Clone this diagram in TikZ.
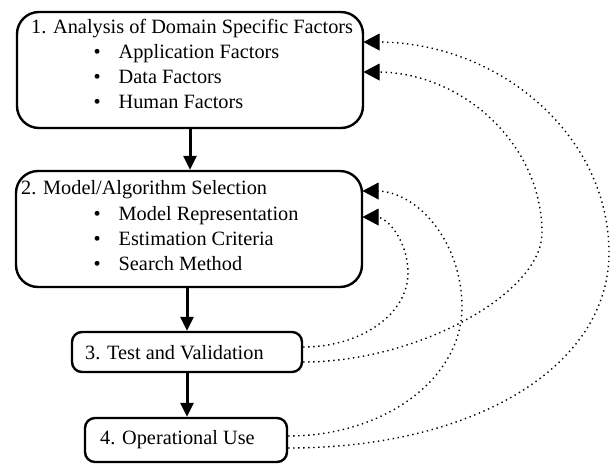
\documentclass[tikz,border=0pt]{standalone}
\usepackage{fontspec}
\setmainfont{Liberation Serif}
\usetikzlibrary{arrows.meta}
\begin{document}
\begin{tikzpicture}[x=1pt,y=-1pt,
  box/.style={draw, line width=2.4pt, rounded corners=#1, inner sep=0pt},
  box/.default=20pt,
  txt/.style={anchor=base west, inner sep=0pt, font=\fontsize{20.3}{24}\selectfont},
  flow/.style={line width=3pt, -{Triangle[length=14pt,width=13pt]}},
  fb/.style={line width=1.4pt, dash pattern=on 1.4pt off 3.6pt, shorten >=13pt},
  fbtip/.style={fill=black, draw=black, line width=0.6pt, line join=miter}]
  % canvas
  \path[fill=white,use as bounding box] (0,0) rectangle (611,464);

  % process boxes
  \node[box=22pt, minimum width=346pt, minimum height=116pt] (b1) at (190,70) {};
  \node[box=22pt, minimum width=346pt, minimum height=116pt] (b2) at (189,229) {};
  \node[box=10pt, minimum width=230pt, minimum height=40pt] (b3) at (187,352) {};
  \node[box=10pt, minimum width=202pt, minimum height=44pt] (b4) at (186,440) {};

  % box texts
  \node[txt] (t1)  at (31,33)   {1. Analysis of Domain Specific Factors};
  \node[txt] (t1a) at (93.5,58) {\makebox[25pt][l]{\textbullet}Application Factors};
  \node[txt] (t1b) at (93.5,83) {\makebox[25pt][l]{\textbullet}Data Factors};
  \node[txt] (t1c) at (93.5,108){\makebox[25pt][l]{\textbullet}Human Factors};

  \node[txt] (t2)  at (21,194)  {2. Model/Algorithm Selection};
  \node[txt] (t2a) at (93.5,220){\makebox[25pt][l]{\textbullet}Model Representation};
  \node[txt] (t2b) at (93.5,245){\makebox[25pt][l]{\textbullet}Estimation Criteria};
  \node[txt] (t2c) at (93.5,270){\makebox[25pt][l]{\textbullet}Search Method};

  \node[txt] (t3)  at (85,359)  {3. Test and Validation};
  \node[txt] (t4)  at (100,444) {4. Operational Use};

  % main flow
  \draw[flow] (b1.south) -- (b1.south |- b2.north);
  \draw[flow] (b3.north |- b2.south) -- (b3.north);
  \draw[flow] (b3.south) -- (b3.south |- b4.north);

  % where the feedback loops enter boxes 1 and 2
  \coordinate (in1a) at ([yshift=28pt]b1.east);
  \coordinate (in1b) at ([yshift=-2pt]b1.east);
  \coordinate (in2a) at ([yshift=38pt]b2.east);
  \coordinate (in2b) at ([yshift=12pt]b2.east);

  % turning points of the feedback loops
  \coordinate (w1) at (408,273);
  \coordinate (w2) at (462,307);
  \coordinate (w3) at (542,233);
  \coordinate (w4) at (609,253);

  % feedback loops
  \draw[fb] ([yshift=5pt]b3.east) .. controls +(58,0) and +(0,41) .. (w1)
            .. controls +(0,-31) and +(25,0) .. (in2b);
  \draw[fb] ([yshift=4pt]b4.east) .. controls +(97,0) and +(0,71) .. (w2)
            .. controls +(0,-64) and +(55,0) .. (in2a);
  \draw[fb] ([yshift=-10pt]b3.east) .. controls +(115,0) and +(0,60) .. (w3)
            .. controls +(0,-89) and +(98,0) .. (in1b);
  \draw[fb] ([yshift=-8pt]b4.east) .. controls +(187,0) and +(0,113) .. (w4)
            .. controls +(0,-117) and +(136,0) .. (in1a);

  % solid heads of the feedback loops
  \foreach \p in {in1a,in1b,in2a,in2b}
    \filldraw[fbtip] (\p) -- ++(15,-8) -- ++(0,16) -- cycle;
\end{tikzpicture}
\end{document}
